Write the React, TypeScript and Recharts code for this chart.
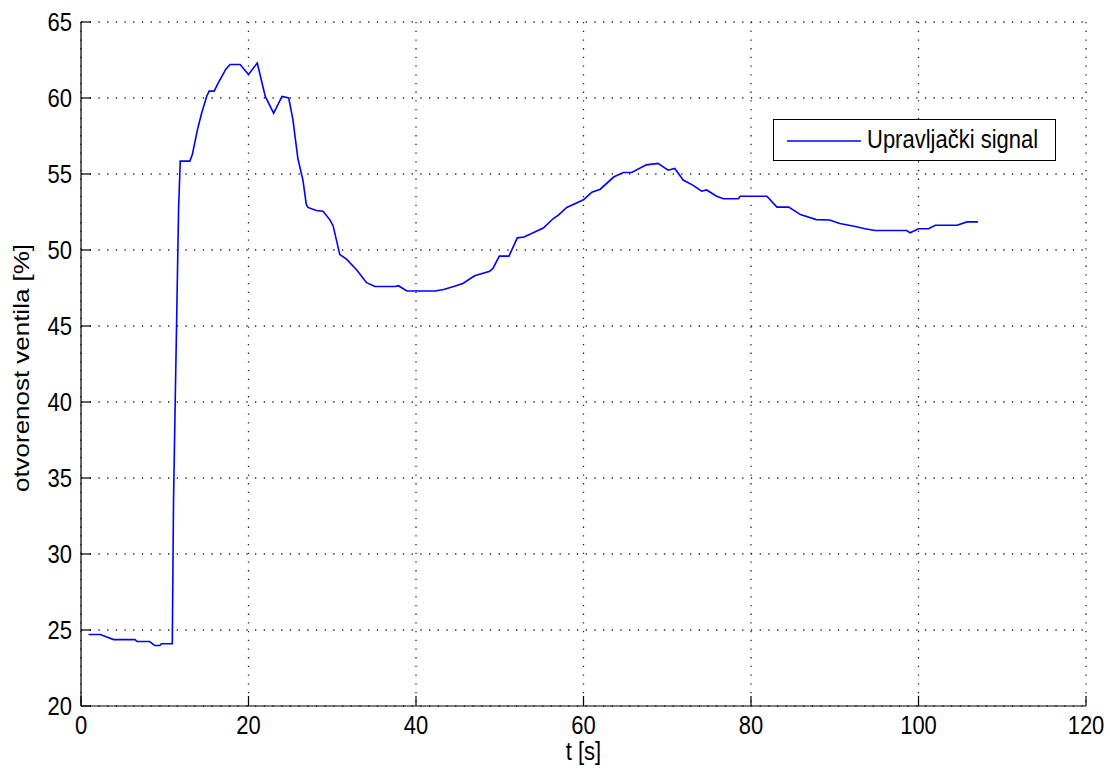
import React from 'react'
import { LineChart, Line, XAxis, YAxis, CartesianGrid, Legend } from 'recharts'

// vrijeme [s] i otvorenost ventila [%], ocitano sa slike
const timeS = [
  0.9, 2.3, 3.0, 3.9, 6.45, 6.7, 8.2, 8.8, 9.4, 9.6, 10.9, 10.95, 11.05, 11.25, 11.45, 11.65, 11.85,
  13.0, 13.3, 13.9, 14.4, 15.0, 15.3, 15.9, 16.3, 16.9, 17.3, 17.8, 19.0, 20.0, 21.05, 22.0, 23.0,
  24.0, 24.8, 25.3, 25.9, 26.5, 26.9, 27.1, 28.1, 28.9, 29.7, 30.1, 30.9, 31.7, 32.9, 34.1, 35.1,
  37.5, 37.9, 38.9, 42.3, 43.3, 44.5, 45.6, 47.0, 48.8, 49.2, 49.95, 51.1, 52.1, 52.9, 55.2, 56.4,
  57.0, 58.0, 60.0, 61.0, 62.0, 63.6, 64.75, 65.75, 67.5, 68.9, 70.1, 70.9, 71.9, 73.1, 74.1, 74.7,
  75.9, 76.7, 78.5, 78.7, 81.9, 83.1, 84.5, 85.9, 87.8, 89.4, 90.6, 92.6, 93.6, 94.8, 98.6, 99.0,
  100.0, 101.2, 102.0, 104.6, 105.8, 107.1,
]
const valvePct = [
  24.7, 24.7, 24.55, 24.37, 24.37, 24.24, 24.24, 23.98, 23.98, 24.1, 24.1, 27.35, 33.6, 40.05, 46.3, 52.7, 55.85,
  55.85, 56.3, 57.9, 59.0, 60.1, 60.45, 60.45, 60.9, 61.5, 61.9, 62.2, 62.2, 61.55, 62.3, 60.1, 59.0,
  60.1, 60.0, 58.6, 56.0, 54.6, 53.0, 52.8, 52.6, 52.55, 52.0, 51.6, 49.7, 49.4, 48.7, 47.85, 47.6,
  47.6, 47.65, 47.3, 47.3, 47.4, 47.6, 47.8, 48.3, 48.6, 48.8, 49.6, 49.6, 50.8, 50.85, 51.45, 52.07,
  52.3, 52.8, 53.3, 53.8, 54.0, 54.8, 55.1, 55.1, 55.6, 55.7, 55.25, 55.36, 54.6, 54.25, 53.87, 53.95,
  53.54, 53.37, 53.37, 53.54, 53.54, 52.82, 52.82, 52.33, 52.0, 51.97, 51.74, 51.53, 51.4, 51.28, 51.28, 51.13,
  51.4, 51.4, 51.63, 51.63, 51.85, 51.85,
]
const xTicks = [0, 20, 40, 60, 80, 100, 120]
const yTicks = [20, 25, 30, 35, 40, 45, 50, 55, 60, 65]
const seriesName = 'Upravljački signal'

const data = timeS.map((t, i) => ({ t, v: valvePct[i] }))

const FONT = '"Liberation Sans", Arial, Helvetica, sans-serif'
const STRETCH = 1.15 // the original text is a bit taller than it is wide

function XTick({ x, y, payload }: any) {
  return (
    <g>
      <line x1={x} x2={x} y1={y} y2={y - 10} stroke="#000" strokeWidth={1.2} />
      <text
        transform={`translate(${x}, ${y + 28}) scale(1, ${STRETCH})`}
        textAnchor="middle"
        fontSize={22}
        fontFamily={FONT}
        fill="#000"
      >
        {payload.value}
      </text>
    </g>
  )
}

function YTick({ x, y, payload }: any) {
  return (
    <g>
      <line x1={x} x2={x + 10} y1={y} y2={y} stroke="#000" strokeWidth={1.2} />
      <text
        transform={`translate(${x - 9}, ${y + 9}) scale(1, ${STRETCH})`}
        textAnchor="end"
        fontSize={22}
        fontFamily={FONT}
        fill="#000"
      >
        {payload.value}
      </text>
    </g>
  )
}

function YLabel({ viewBox }: any) {
  const cy = viewBox.y + viewBox.height / 2 + 4
  return (
    <text
      transform={`translate(29, ${cy}) rotate(-90) scale(${STRETCH + 0.03}, 1)`}
      textAnchor="middle"
      fontSize={22}
      fontFamily={FONT}
      fill="#000"
    >
      otvorenost ventila [%]
    </text>
  )
}

function XLabel({ viewBox }: any) {
  const cx = viewBox.x + viewBox.width / 2
  return (
    <text
      transform={`translate(${cx}, 760) scale(1, ${STRETCH})`}
      textAnchor="middle"
      fontSize={22}
      fontFamily={FONT}
      fill="#000"
    >
      t [s]
    </text>
  )
}

function LegendBox() {
  return (
    <div
      style={{
        width: 283,
        height: 42,
        boxSizing: 'border-box',
        border: '1.5px solid #000',
        background: '#fff',
        display: 'flex',
        alignItems: 'center',
        fontFamily: FONT,
        fontSize: 22,
        color: '#000',
      }}
    >
      <svg width={93} height={20} style={{ flex: 'none' }}>
        <line x1={13} x2={87} y1={11} y2={11} stroke="#0000ff" strokeWidth={1.6} />
      </svg>
      <span style={{ whiteSpace: 'nowrap', display: 'inline-block', transform: `scaleY(${STRETCH})` }}>
        {seriesName}
      </span>
    </div>
  )
}

export default function App() {
  return (
    <div style={{ position: 'absolute', left: 0, top: 0, background: '#fff' }}>
      <LineChart width={1110} height={771} data={data} margin={{ top: 22, right: 24, bottom: 0, left: 0 }}>
        <CartesianGrid stroke="#222" strokeWidth={1.3} strokeDasharray="1.3 7.4" />
        <XAxis
          dataKey="t"
          type="number"
          domain={[0, 120]}
          ticks={xTicks}
          interval={0}
          height={65}
          tickSize={0}
          tickMargin={0}
          tickLine={false}
          axisLine={{ stroke: '#000', strokeWidth: 1.2 }}
          tick={<XTick />}
          label={<XLabel />}
        />
        <YAxis
          type="number"
          domain={[20, 65]}
          ticks={yTicks}
          interval={0}
          width={81}
          tickSize={0}
          tickMargin={0}
          tickLine={false}
          axisLine={{ stroke: '#000', strokeWidth: 1.2 }}
          tick={<YTick />}
          label={<YLabel />}
        />
        <Legend
          layout="vertical"
          align="center"
          verticalAlign="middle"
          wrapperStyle={{ left: 773, top: 119, width: 283 }}
          content={() => <LegendBox />}
        />
        <Line
          type="linear"
          dataKey="v"
          name={seriesName}
          stroke="#0000ff"
          strokeWidth={1.6}
          dot={false}
          isAnimationActive={false}
        />
      </LineChart>
    </div>
  )
}
